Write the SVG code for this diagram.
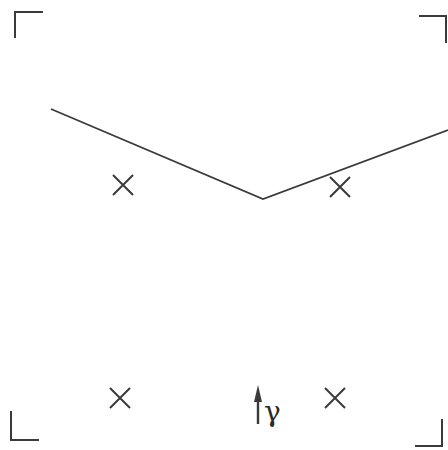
<svg xmlns="http://www.w3.org/2000/svg" width="448" height="450" viewBox="0 0 448 450">
<style>
.ln{fill:none;stroke:#3a3a3a;stroke-width:2;stroke-linecap:square}
.x{fill:none;stroke:#3a3a3a;stroke-width:2}
.lbl{font-family:"DejaVu Serif",serif;font-size:28px;fill:#2a2a2a}
</style>
<rect width="448" height="450" fill="#fff"/>
<g id="corners">
<path class="ln" d="M15,37 V12 H42"/>
<path class="ln" d="M420,16 H446 V42"/>
<path class="ln" d="M11,412 V440 H38"/>
<path class="ln" d="M416,446 H442 V420"/>
</g>
<g id="connectors">
<polyline class="x" points="51,109 263,199 448,130" style="stroke-width:1.8"/>
<line class="x" x1="258" y1="424" x2="258" y2="398" style="stroke-width:2.4"/>
<path d="M258,385 L262,402 L254,402 Z" fill="#3a3a3a"/>
</g>
<g id="x1"><path class="x" d="M113,175 L133,195 M133,175 L113,195"/></g>
<g id="x2"><path class="x" d="M330,177 L350,197 M350,177 L330,197"/></g>
<g id="x3"><path class="x" d="M110,388 L130,408 M130,388 L110,408"/></g>
<g id="x4"><path class="x" d="M325,388 L345,408 M345,388 L325,408"/></g>
<g id="label"><text class="lbl" x="264" y="421">γ</text></g>
</svg>
